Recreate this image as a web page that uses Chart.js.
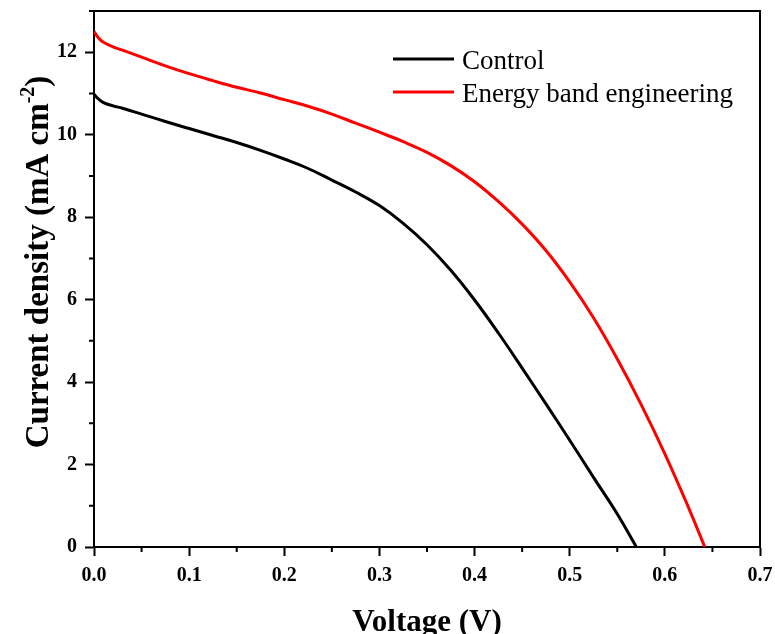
<!DOCTYPE html>
<html>
<head>
<meta charset="utf-8">
<script src="https://cdn.jsdelivr.net/npm/chart.js@4"></script>
<style>
	body { margin: 0; background: #fff; }
	#chart { display: block; }
</style>
</head>
<body>
<canvas id="chart" width="775" height="634"></canvas>
<script>
// J-V curves (V, mA cm-2)
const voltageControl = [0, 0.005, 0.01, 0.02, 0.03, 0.05, 0.075, 0.1, 0.125, 0.15, 0.175, 0.2, 0.225, 0.25, 0.275, 0.3, 0.325, 0.35, 0.375, 0.4, 0.425, 0.45, 0.475, 0.5, 0.525, 0.55, 0.57];
const currentControl = [10.98, 10.86, 10.78, 10.70, 10.64, 10.50, 10.32, 10.15, 9.98, 9.81, 9.62, 9.41, 9.18, 8.90, 8.61, 8.28, 7.85, 7.33, 6.71, 5.99, 5.19, 4.34, 3.47, 2.59, 1.69, 0.80, 0];
const voltageEnergy = [0, 0.005, 0.01, 0.02, 0.03, 0.05, 0.075, 0.1, 0.125, 0.15, 0.175, 0.2, 0.225, 0.25, 0.275, 0.3, 0.325, 0.35, 0.375, 0.4, 0.425, 0.45, 0.475, 0.5, 0.525, 0.55, 0.575, 0.6, 0.625, 0.642];
const currentEnergy = [12.50, 12.34, 12.24, 12.13, 12.05, 11.88, 11.67, 11.48, 11.31, 11.15, 11.01, 10.85, 10.69, 10.50, 10.28, 10.06, 9.83, 9.57, 9.25, 8.86, 8.38, 7.83, 7.19, 6.43, 5.56, 4.56, 3.46, 2.26, 0.95, 0];
const seriesLabels = ['Control', 'Energy band engineering'];
const seriesColors = ['#000000', '#ff0000'];
const minorTicksX = [0.05, 0.15, 0.25, 0.35, 0.45, 0.55, 0.65];
const minorTicksY = [1, 3, 5, 7, 9, 11, 13];

const serif = "'Liberation Serif', 'Times New Roman', serif";

const toPoints = (xs, ys) => xs.map((x, i) => ({x, y: ys[i]}));

// keep the plot box where the figure has it, no label overflow padding
const fixPadding = scale => {
	scale.paddingTop = 0;
	scale.paddingRight = 0;
	scale.paddingLeft = 0;
	scale.paddingBottom = 0;
};

// box round the plot plus the short minor ticks
const framePlugin = {
	id: 'frame',
	afterDraw: chart => {
		const {ctx, chartArea, scales} = chart;
		ctx.save();
		ctx.strokeStyle = '#000';
		ctx.lineWidth = 2;
		ctx.beginPath();
		ctx.moveTo(chartArea.left, chartArea.top);
		ctx.lineTo(chartArea.right, chartArea.top);
		ctx.lineTo(chartArea.right, chartArea.bottom);
		ctx.stroke();
		ctx.beginPath();
		minorTicksX.forEach(v => {
			const px = scales.x.getPixelForValue(v);
			ctx.moveTo(px, chartArea.bottom);
			ctx.lineTo(px, chartArea.bottom + 5);
		});
		minorTicksY.forEach(v => {
			const py = scales.y.getPixelForValue(v);
			ctx.moveTo(chartArea.left, py);
			ctx.lineTo(chartArea.left - 5, py);
		});
		ctx.stroke();
		ctx.restore();
	}
};

// y title needs a real superscript, so it is drawn here
const yTitlePlugin = {
	id: 'yTitle',
	afterDraw: chart => {
		const {ctx} = chart;
		const main = 'Current density (mA cm';
		const sup = '-2';
		const tail = ')';
		const big = `bold 33px ${serif}`;
		const small = `bold 20px ${serif}`;
		ctx.save();
		ctx.fillStyle = '#000';
		ctx.font = big;
		const wMain = ctx.measureText(main).width;
		const wTail = ctx.measureText(tail).width;
		ctx.font = small;
		const wSup = ctx.measureText(sup).width;
		const total = wMain + wSup + wTail;
		ctx.translate(48, 262);
		ctx.rotate(-Math.PI / 2);
		ctx.textBaseline = 'alphabetic';
		ctx.textAlign = 'left';
		let x = -total / 2;
		ctx.font = big;
		ctx.fillText(main, x, 0);
		x += wMain;
		ctx.font = small;
		ctx.fillText(sup, x, -14);
		x += wSup;
		ctx.font = big;
		ctx.fillText(tail, x, 0);
		ctx.restore();
	}
};

const legendPlugin = {
	id: 'insideLegend',
	afterDraw: chart => {
		const {ctx} = chart;
		ctx.save();
		ctx.font = `27px ${serif}`;
		ctx.textAlign = 'left';
		ctx.textBaseline = 'alphabetic';
		chart.data.datasets.forEach((ds, i) => {
			const y = 59 + i * 33;
			ctx.strokeStyle = ds.borderColor;
			ctx.lineWidth = 3;
			ctx.beginPath();
			ctx.moveTo(393, y);
			ctx.lineTo(454, y);
			ctx.stroke();
			ctx.fillStyle = '#000';
			ctx.fillText(ds.label, 462, y + 9.5);
		});
		ctx.restore();
	}
};

const tickFont = {family: serif, size: 20, weight: 'bold'};

const config = {
	type: 'line',
	data: {
		datasets: [
			{label: seriesLabels[0], data: toPoints(voltageControl, currentControl)},
			{label: seriesLabels[1], data: toPoints(voltageEnergy, currentEnergy)}
		].map((ds, i) => Object.assign(ds, {
			borderColor: seriesColors[i],
			backgroundColor: seriesColors[i],
			borderWidth: 3,
			pointRadius: 0,
			tension: 0.4,
			fill: false
		}))
	},
	options: {
		responsive: false,
		animation: false,
		layout: {padding: {top: 11, right: 15, left: 0, bottom: 0}},
		plugins: {
			legend: {display: false},
			tooltip: {enabled: false}
		},
		scales: {
			x: {
				type: 'linear',
				min: 0,
				max: 0.7,
				afterFit: scale => {
					scale.height = 87;
					fixPadding(scale);
				},
				border: {display: true, color: '#000', width: 2},
				grid: {drawOnChartArea: false, drawTicks: true, tickLength: 9, tickColor: '#000', tickWidth: 2},
				ticks: {
					stepSize: 0.1,
					color: '#000',
					font: tickFont,
					padding: 8,
					maxRotation: 0,
					callback: value => Number(value).toFixed(1)
				},
				title: {
					display: true,
					text: 'Voltage (V)',
					color: '#000',
					font: {family: serif, size: 31, weight: 'bold'},
					padding: {top: 0, bottom: -8}
				}
			},
			y: {
				min: 0,
				max: 13,
				afterFit: scale => {
					scale.width = 94;
					fixPadding(scale);
				},
				border: {display: true, color: '#000', width: 2},
				grid: {drawOnChartArea: false, drawTicks: true, tickLength: 9, tickColor: '#000', tickWidth: 2},
				ticks: {
					stepSize: 2,
					includeBounds: false,
					color: '#000',
					font: tickFont,
					padding: 8
				}
			}
		}
	},
	plugins: [framePlugin, yTitlePlugin, legendPlugin]
};

new Chart(document.getElementById('chart'), config);
</script>
</body>
</html>
